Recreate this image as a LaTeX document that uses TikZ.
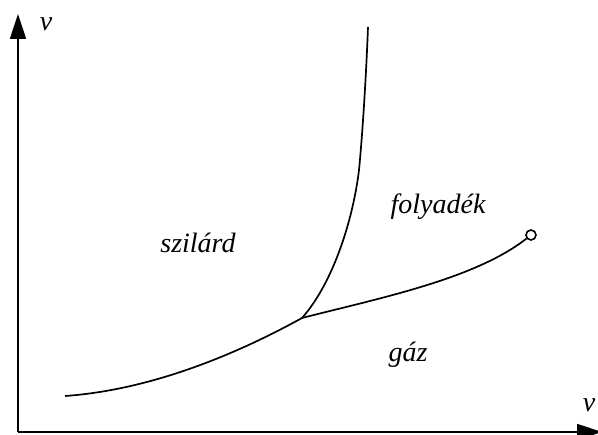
\documentclass[tikz,border=0pt]{standalone}
\usepackage{fontspec}
\setmainfont{Liberation Serif}
\usetikzlibrary{arrows.meta, positioning}

\tikzset{
  axis/.style={line width=1.7pt, -{Triangle[length=25pt,width=16pt]}},
  curve/.style={line width=1.7pt},
  phase/.style={font=\fontsize{28}{32}\selectfont\itshape}
}

\begin{document}
\begin{tikzpicture}[x=1pt,y=-1pt]
\useasboundingbox (0,0) rectangle (598,435);
% axes
\coordinate (o) at (18,432);
\coordinate (ytop) at (18,14);
\coordinate (xend) at (602,432);
\draw [axis] (o) -- (ytop);
\draw [axis] (o) -- (xend);
\node (ylab) at (46,24) [phase] {v};
\node (xlab) at (589,405) [phase] {v};
% phase boundaries
\coordinate (start) at (65,396);
\coordinate (triple) at (302,318);
\coordinate (top) at (368,27);
\node (crit) at (531,235) [circle, draw, line width=1.6pt, fill=white, inner sep=0pt, minimum size=10pt] {};
\draw [curve] (start) .. controls (150,390) and (235,355) .. (triple);
\draw [curve] (triple) .. controls (380,298) and (475,279) .. (crit);
\draw [curve] (triple) .. controls (333,283) and (353,220) .. (359,170) .. controls (362,140) and (366,80) .. (top);
% labels
\node (solid) at (198,243) [phase] {szilárd};
\node (liquid) at (438,207) [phase] {folyadék};
\node (gas) at (408,355) [phase] {gáz};
\end{tikzpicture}
\end{document}
